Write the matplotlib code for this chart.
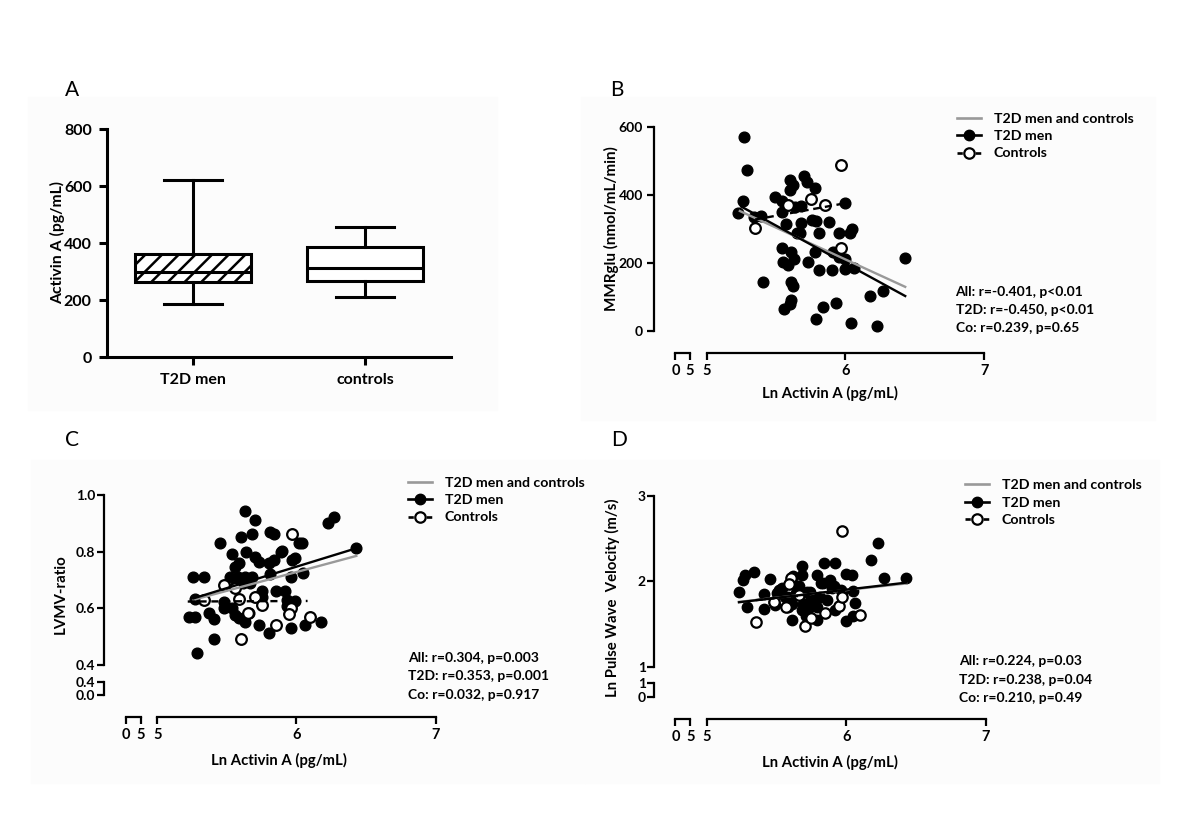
import matplotlib.pyplot as plt
from matplotlib.lines import Line2D
from matplotlib.patches import Rectangle

plt.rcParams['font.family'] = ['Lato', 'DejaVu Sans']
plt.rcParams['hatch.linewidth'] = 1.8

# -------------------------------
# DATA
# -------------------------------
# Panel A: box plot of Activin A
groups = ['T2D men', 'controls']
act_lo = [187, 211]
act_q1 = [263, 269]
act_med = [298, 315]
act_q3 = [363, 388]
act_hi = [622, 458]

# Panel B: MMRglu vs Ln Activin A
b_t2d_x = [5.27, 5.29, 5.26, 5.23, 5.34, 5.39, 5.41, 5.49, 5.54, 5.54,
           5.57, 5.54, 5.55, 5.59, 5.61, 5.63, 5.61, 5.62, 5.61, 5.60,
           5.56, 5.60, 5.62, 5.60, 5.64, 5.68, 5.70, 5.72, 5.65, 5.68,
           5.67, 5.73, 5.78, 5.76, 5.79, 5.81, 5.78, 5.81, 5.79, 5.84,
           5.88, 5.90, 5.93, 5.95, 5.91, 5.95, 6.00, 6.00, 6.00, 6.03,
           6.05, 6.06, 6.04, 6.18, 6.23, 6.27, 6.43]
b_t2d_y = [569, 473, 381, 345, 335, 337, 144, 394, 350, 381,
           314, 242, 203, 193, 232, 210, 144, 131, 90, 80,
           63, 443, 428, 414, 363, 367, 455, 438, 286, 316,
           286, 203, 419, 325, 324, 286, 232, 178, 33, 71,
           319, 178, 82, 286, 232, 216, 375, 210, 181, 286,
           298, 183, 22, 103, 15, 118, 215]
b_co_x = [5.35, 5.59, 5.75, 5.85, 5.97, 5.97]
b_co_y = [301, 370, 386, 370, 486, 242]
b_fit_all = ([5.24, 6.43], [352, 129])
b_fit_t2d = ([5.25, 6.43], [365, 102])
b_fit_co = ([5.35, 6.00], [327, 375])
b_stats = ['All: r=-0.401, p<0.01', 'T2D: r=-0.450, p<0.01', 'Co: r=0.239, p=0.65']

# Panel C: LVMV-ratio vs Ln Activin A
c_t2d_x = [5.29, 5.26, 5.34, 5.27, 5.23, 5.27, 5.37, 5.41, 5.41, 5.45,
           5.54, 5.63, 5.70, 5.68, 5.60, 5.64, 5.70, 5.73, 5.81, 5.84,
           5.89, 5.90, 5.84, 5.80, 5.81, 5.85, 5.75, 5.56, 5.58, 5.63,
           5.59, 5.68, 5.67, 5.62, 5.56, 5.52, 5.97, 5.99, 6.02, 6.04,
           6.05, 5.96, 5.92, 5.99, 5.93, 5.93, 5.96, 6.06, 6.18, 6.23,
           6.27, 6.43, 5.48, 5.48, 5.54, 5.56, 5.59, 5.63, 5.66, 5.73,
           5.80, 5.75]
c_t2d_y = [0.441, 0.712, 0.712, 0.633, 0.571, 0.571, 0.582, 0.561, 0.492, 0.832,
           0.792, 0.945, 0.912, 0.862, 0.853, 0.800, 0.780, 0.765, 0.871, 0.861,
           0.800, 0.802, 0.771, 0.759, 0.721, 0.661, 0.661, 0.747, 0.712, 0.712,
           0.759, 0.712, 0.688, 0.688, 0.676, 0.712, 0.771, 0.777, 0.829, 0.829,
           0.724, 0.712, 0.662, 0.626, 0.629, 0.608, 0.529, 0.541, 0.551, 0.900,
           0.921, 0.812, 0.624, 0.600, 0.600, 0.576, 0.565, 0.551, 0.582, 0.541,
           0.512, 0.641]
c_co_x = [5.34, 5.48, 5.56, 5.59, 5.65, 5.70, 5.75, 5.85, 5.60, 5.97, 5.96, 5.95, 6.10]
c_co_y = [0.629, 0.682, 0.671, 0.633, 0.582, 0.641, 0.612, 0.541, 0.491, 0.862, 0.600, 0.580, 0.571]
c_fit_all = ([5.26, 6.43], [0.630, 0.785])
c_fit_t2d = ([5.26, 6.43], [0.635, 0.812])
c_fit_co = ([5.22, 6.08], [0.624, 0.626])
c_stats = ['All: r=0.304, p=0.003', 'T2D: r=0.353, p=0.001', 'Co: r=0.032, p=0.917']

# Panel D: Ln pulse wave velocity vs Ln Activin A
d_t2d_x = [5.23, 5.26, 5.27, 5.34, 5.29, 5.41, 5.41, 5.45, 5.50, 5.54,
           5.58, 5.62, 5.65, 5.68, 5.68, 5.61, 5.68, 5.71, 5.79, 5.77,
           5.74, 5.79, 5.84, 5.82, 5.88, 5.92, 5.90, 5.96, 6.00, 6.04,
           6.05, 6.06, 6.00, 6.05, 5.92, 6.18, 6.23, 6.27, 6.43, 5.79,
           5.73, 5.58, 5.48, 5.52, 5.56, 5.61, 5.64, 5.69, 5.72, 5.76,
           5.81, 5.83, 5.91, 5.97, 5.49, 5.86, 5.74, 5.66]
d_t2d_y = [1.88, 2.01, 2.07, 2.11, 1.70, 1.68, 1.85, 2.03, 1.86, 1.92,
           1.82, 2.06, 1.94, 2.18, 2.07, 1.55, 1.66, 1.59, 1.55, 1.78,
           1.88, 2.07, 2.21, 1.98, 2.02, 2.21, 1.92, 1.90, 2.09, 2.07,
           1.89, 1.75, 1.53, 1.59, 1.66, 2.25, 2.45, 2.04, 2.04, 1.70,
           1.76, 1.70, 1.76, 1.90, 1.82, 1.74, 1.86, 1.74, 1.88, 1.78,
           1.82, 1.98, 1.94, 1.88, 1.72, 1.78, 1.70, 1.94]
d_co_x = [5.35, 5.48, 5.57, 5.60, 5.59, 5.66, 5.70, 5.75, 5.85, 5.95, 5.97, 5.97, 6.10]
d_co_y = [1.52, 1.76, 1.70, 2.04, 1.97, 1.84, 1.48, 1.57, 1.63, 1.71, 1.82, 2.59, 1.61]
d_fit_all = ([5.23, 6.43], [1.760, 1.975])
d_fit_t2d = ([5.23, 6.43], [1.755, 1.985])
d_fit_co = ([5.35, 6.10], [1.780, 1.900])
d_stats = ['All: r=0.224, p=0.03', 'T2D: r=0.238, p=0.04', 'Co: r=0.210, p=0.49']

legend_labels = ['T2D men and controls', 'T2D men', 'Controls']
xlabel = 'Ln Activin A (pg/mL)'

# -------------------------------
# LAYOUT HELPERS (pixel coordinates, origin top-left)
# -------------------------------
W, H = 1200, 831
fig = plt.figure(figsize=(W / 100, H / 100), dpi=100)


def rect(x0, y0, x1, y1):
    return [x0 / W, 1 - y1 / H, (x1 - x0) / W, (y1 - y0) / H]


def ftext(x, y, s, **kw):
    fig.text(x / W, 1 - y / H, s, **kw)


def style_axis(ax, lw=1.6):
    ax.patch.set_visible(False)
    for s in ax.spines.values():
        s.set_linewidth(lw)
    ax.spines['top'].set_visible(False)
    ax.spines['right'].set_visible(False)
    ax.tick_params(width=lw, length=5, color='black')


# faint panel backgrounds
for x0, y0, x1, y1 in [(28, 97, 497, 410), (581, 97, 1155, 420),
                       (31, 460, 585, 783), (585, 460, 1159, 783)]:
    fig.patches.append(Rectangle((x0 / W, 1 - y1 / H), (x1 - x0) / W, (y1 - y0) / H,
                                 transform=fig.transFigure, color='#fcfcfc', zorder=-10))

# -------------------------------
# PANEL A
# -------------------------------
axA = fig.add_axes(rect(107, 129.3, 451, 357.3))
style_axis(axA, lw=2.2)
box_stats = [dict(whislo=lo, q1=a, med=m, q3=b, whishi=hi, fliers=[])
             for lo, a, m, b, hi in zip(act_lo, act_q1, act_med, act_q3, act_hi)]
lp = dict(color='black', linewidth=2.2)
bp = axA.bxp(box_stats, positions=[1, 2], widths=0.67, capwidths=0.34,
             patch_artist=True, showfliers=False,
             boxprops=dict(facecolor='white', edgecolor='black', linewidth=2.2),
             whiskerprops=lp, capprops=lp, medianprops=lp)
bp['boxes'][0].set_hatch('//')
axA.set_xlim(0.5, 2.5)
axA.set_ylim(0, 800)
axA.set_yticks([0, 200, 400, 600, 800], ['0', '200', '400', '600', '800'],
               fontsize=11.5, fontweight='bold')
axA.set_xticks([1, 2], groups, fontsize=11.5, fontweight='bold')
axA.tick_params(length=6, pad=5)
ftext(58, 243, 'Activin A (pg/mL)', rotation=90, ha='center', va='center',
      fontsize=11.3, fontweight='bold')
ftext(72, 90, 'A', ha='center', va='center', fontsize=15)


# -------------------------------
# SCATTER PANELS
# -------------------------------
def scatter_panel(x5, x7, ytop, ybot, spine_x, axis_y, ylim, yticks, ytl, ypad,
                  t2d_x, t2d_y, co_x, co_y, fits, ms):
    ax = fig.add_axes(rect(x5, ytop, x7, ybot))
    style_axis(ax)
    ax.set_xlim(5, 7)
    ax.set_ylim(*ylim)
    ax.spines['left'].set_position(('outward', (x5 - spine_x) * 0.72))
    ax.spines['bottom'].set_position(('outward', (axis_y - ybot) * 0.72))
    ax.set_xticks([5, 6, 7], ['5', '6', '7'], fontsize=10.5, fontweight='bold')
    ax.set_yticks(yticks, ytl, fontsize=10, fontweight='bold')
    ax.tick_params(axis='y', pad=ypad)
    ax.tick_params(axis='x', pad=3)
    ax.plot(t2d_x, t2d_y, 'o', ms=ms, color='black', zorder=2, clip_on=False)
    ax.plot(co_x, co_y, 'o', ms=ms, mfc='white', mec='black', mew=1.6,
            zorder=2.5, clip_on=False)
    fa, ft, fc = fits
    ax.plot(*fa, color='#999999', lw=1.7, zorder=3)
    ax.plot(*ft, color='black', lw=1.7, zorder=4)
    ax.plot(*fc, color='black', lw=1.7, ls=(0, (3, 2)), zorder=4)
    return ax


def x_segment(x0, x1, axis_y):
    ax = fig.add_axes(rect(x0, axis_y - 2, x1, axis_y))
    style_axis(ax)
    ax.spines['left'].set_visible(False)
    ax.set_xlim(0, 5)
    ax.set_yticks([])
    ax.set_xticks([0, 5], ['0', '5'], fontsize=10.5, fontweight='bold')
    ax.tick_params(axis='x', pad=3)


def y_segment(spine_x, y0, y1, top_val, labels, pad):
    ax = fig.add_axes(rect(spine_x, y0, spine_x + 2, y1))
    style_axis(ax)
    ax.spines['bottom'].set_visible(False)
    ax.set_ylim(0, top_val)
    ax.set_xticks([])
    ax.set_yticks([0, top_val], labels, fontsize=10, fontweight='bold')
    ax.tick_params(axis='y', pad=pad)


def legend(ax, x, y_first):
    handles = [Line2D([], [], color='#999999', lw=1.9),
               Line2D([], [], color='black', lw=1.9, marker='o', ms=7.5),
               Line2D([], [], color='black', lw=1.9, ls=(0, (2, 1.5)), marker='o',
                      ms=7.5, mfc='white', mew=1.6)]
    ax.legend(handles, legend_labels, loc='upper left',
              bbox_to_anchor=(x / W, 1 - (y_first - 9) / H),
              bbox_transform=fig.transFigure, frameon=False,
              handlelength=1.7, handletextpad=0.9, labelspacing=0.38,
              borderpad=0, borderaxespad=0,
              prop=dict(weight='bold', size=10.2))


def stats_text(x, ys, lines):
    for y, s in zip(ys, lines):
        ftext(x, y, s, ha='left', va='center', fontsize=10, fontweight='bold')


# Panel B
axB = scatter_panel(706.5, 984.4, 126.7, 330.7, 654, 353.3, (0, 600),
                    [0, 200, 400, 600], ['0', '200', '400', '600'], 3,
                    b_t2d_x, b_t2d_y, b_co_x, b_co_y,
                    (b_fit_all, b_fit_t2d, b_fit_co), 7.7)
x_segment(675.4, 689.9, 353.3)
legend(axB, 957, 121.7)
stats_text(955.5, [291.7, 310, 328.3], b_stats)
ftext(611, 229, 'MMRglu (nmol/mL/min)', rotation=90, ha='center', va='center',
      fontsize=11, fontweight='bold')
ftext(830, 393, xlabel, ha='center', va='center', fontsize=10.7, fontweight='bold')
ftext(617, 90, 'B', ha='center', va='center', fontsize=15)

# Panel C
axC = scatter_panel(157.1, 435.7, 495, 665, 103.6, 716.7, (0.4, 1.0),
                    [0.4, 0.6, 0.8, 1.0], ['0.4', '0.6', '0.8', '1.0'], 1,
                    c_t2d_x, c_t2d_y, c_co_x, c_co_y,
                    (c_fit_all, c_fit_t2d, c_fit_co), 7.7)
x_segment(125.7, 140.7, 716.7)
y_segment(103.6, 681.7, 695, 0.4, ['0.0', '0.4'], 1)
legend(axC, 408, 485.7)
stats_text(408, [657.7, 676, 695], c_stats)
ftext(61, 594, 'LVMV-ratio', rotation=90, ha='center', va='center',
      fontsize=10.8, fontweight='bold')
ftext(279, 760, xlabel, ha='center', va='center', fontsize=10.7, fontweight='bold')
ftext(72, 440, 'C', ha='center', va='center', fontsize=15)

# Panel D
axD = scatter_panel(706.9, 985.8, 496, 666.7, 654, 719.3, (1, 3),
                    [1, 2, 3], ['1', '2', '3'], 1,
                    d_t2d_x, d_t2d_y, d_co_x, d_co_y,
                    (d_fit_all, d_fit_t2d, d_fit_co), 7.5)
x_segment(675.4, 690.2, 719.3)
y_segment(654, 683.3, 696.7, 1, ['0', '1'], 1)
legend(axD, 965, 488.3)
stats_text(959, [660.7, 679.7, 698.3], d_stats)
ftext(612.6, 598, 'Ln Pulse Wave  Velocity (m/s)', rotation=90, ha='center',
      va='center', fontsize=10.7, fontweight='bold')
ftext(830, 762, xlabel, ha='center', va='center', fontsize=10.7, fontweight='bold')
ftext(619, 440, 'D', ha='center', va='center', fontsize=15)

fig.savefig('out.png', dpi=100)
